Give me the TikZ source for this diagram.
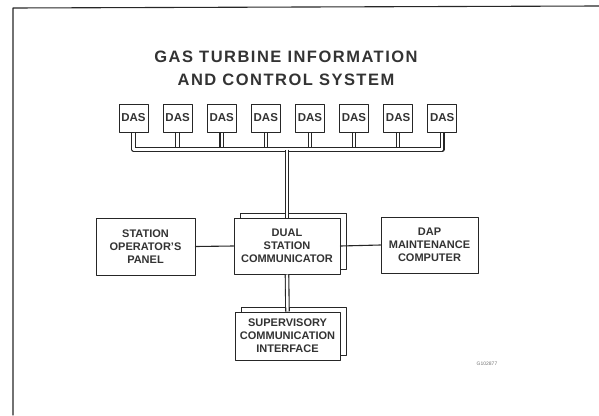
\documentclass[tikz,border=0pt]{standalone}
\usepackage{fontspec}
\setmainfont{Liberation Sans}
\newfontfamily\titlefont[LetterSpace=9]{Liberation Sans}
\usetikzlibrary{shadows}
\begin{document}
\begin{tikzpicture}[x=1pt, y=-1pt, line join=round, line cap=round,
    box/.style={draw=black!85, fill=white, line width=1pt, align=center, inner sep=1pt,
      font=\bfseries\fontsize{11}{13}\selectfont, text=black!80},
    dasbox/.style={box, minimum width=29pt, minimum height=28pt, inner sep=0pt, font=\bfseries\fontsize{11.5}{13}\selectfont},
    dual/.style={copy shadow={shadow xshift=6pt, shadow yshift=5pt, draw=black!85, fill=white, line width=1pt}},
    cable/.style={draw=black!85, line width=1.1pt, double=white, double distance=2.4pt, line cap=butt},
    wire/.style={draw=black!85, line width=1.1pt}]
      \useasboundingbox (0,0) rectangle (599,415);
      \draw [wire] (13,415) -- (13,8) -- (599,6);

      \node [font=\titlefont\bfseries\fontsize{16.5}{23}\selectfont, text=black!80, align=center] (title) at (286,68)
        {GAS TURBINE INFORMATION\\AND CONTROL SYSTEM};

      % data acquisition units on the bus
      \foreach \i in {1,...,8}
        \node [dasbox] (das\i) at ({89.4+44.1*\i},118) {DAS};
      \coordinate (busmid) at (287,149.5);
      \foreach \i in {2,...,7}
        \draw [cable] (das\i.south) -- (das\i.south |- busmid);
      \draw [cable] (das1.south) |- (busmid) -| (das8.south);

      \node [box, minimum width=99pt, minimum height=57pt] (sop) at (145.5,246.5) {STATION\\OPERATOR'S\\PANEL};
      \node [box, dual, minimum width=106pt, minimum height=56pt] (dsc) at (287,246) {DUAL\\STATION\\COMMUNICATOR};
      \node [box, minimum width=97pt, minimum height=56pt] (dap) at (429.5,245) {DAP\\MAINTENANCE\\COMPUTER};
      \node [box, dual, minimum width=105pt, minimum height=48pt] (sci) at (287.5,336) {SUPERVISORY\\COMMUNICATION\\INTERFACE};

      \draw [cable] (busmid) -- (dsc.north);
      \draw [cable] (dsc.south) -- (sci.north);
      \draw [wire] (sop.east) -- (dsc.west);
      \draw [wire] (dsc.east) -- (dap.west);

      \node [font=\fontsize{5}{6}\selectfont, text=black!55] (code) at (487,364) {G102877};
    \end{tikzpicture}
\end{document}
